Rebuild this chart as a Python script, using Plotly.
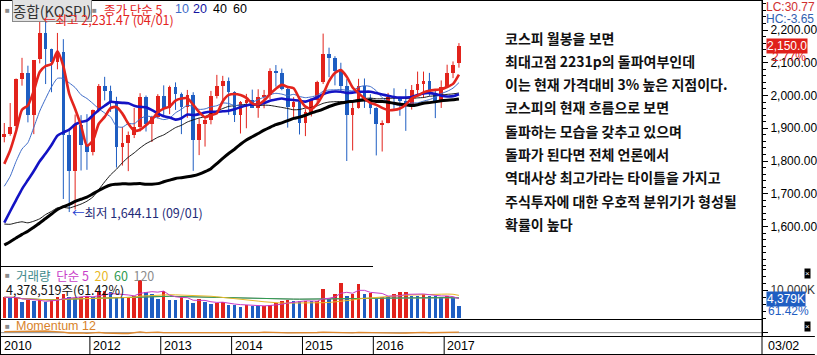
import numpy as np
import pandas as pd
import plotly.graph_objects as go

# ---------------- data ----------------
months = pd.date_range("2010-10-01", periods=78, freq="MS")

open_ = [1873, 1883, 1908, 2051, 2070, 1939, 2110, 2192, 2142, 2101, 2133, 1880, 1770, 1909, 1848,
         1826, 1956, 2030, 2014, 1982, 1843, 1854, 1880, 1905, 1996, 1912, 1933,
         1997, 1962, 2026, 2005, 1964, 2001, 1863, 1914, 1926, 1997, 2030, 2045,
         2011, 1941, 1980, 1986, 1962, 1995, 2002, 2076, 2069, 2020, 1964, 1981,
         1916, 1949, 1986, 2041, 2127, 2115, 2074, 2030, 1941, 1963, 2029, 1992,
         1961, 1912, 1917, 1996, 1994, 1983, 1970, 2016, 2035, 2044, 2008, 1983,
         2026, 2068, 2098]
high = [1916, 1977, 2052, 2115, 2091, 2107, 2231.47, 2229, 2143, 2191, 2172, 1896, 1942, 1940, 1943,
        1957, 2035, 2057, 2030, 1996, 1904, 1890, 1962, 2007, 2000, 1938, 2004,
        2031, 2030, 2040, 2009, 2017, 2010, 1930, 1932, 2014, 2063, 2060, 2055,
        2013, 1983, 2005, 2018, 2019, 2017, 2083, 2093, 2082, 2027, 1995, 1983,
        1958, 1990, 2045, 2189, 2146, 2120, 2100, 2050, 1982, 2051, 2052, 2004,
        1964, 1924, 2008, 2022, 1996, 2020, 2032, 2073, 2073, 2069, 2018, 2046,
        2094, 2104, 2160]
low = [1857, 1877, 1897, 2030, 1918, 1882, 2098, 2035, 2010, 2080, 1684, 1644.11, 1652, 1771, 1773,
       1817, 1949, 1985, 1950, 1780, 1786, 1769, 1870, 1890, 1890, 1858, 1930,
       1935, 1943, 1956, 1882, 1932, 1770, 1818, 1844, 1912, 1991, 1976, 1941,
       1919, 1884, 1900, 1963, 1932, 1961, 1989, 2027, 2016, 1902, 1927, 1881,
       1876, 1936, 1974, 2035, 2056, 2031, 2012, 1800, 1832, 1960, 1962, 1943,
       1817, 1829, 1915, 1959, 1938, 1892, 1957, 2004, 1993, 1999, 1931, 1962,
       2026, 2053, 2085]
close = [1883, 1905, 2051, 2070, 1939, 2107, 2192, 2142, 2101, 2133, 1880, 1770, 1909, 1848, 1826,
         1956, 2030, 2014, 1982, 1843, 1854, 1880, 1905, 1996, 1912, 1933, 1997,
         1962, 2026, 2005, 1964, 2001, 1863, 1914, 1926, 1997, 2030, 2045, 2011,
         1941, 1980, 1986, 1962, 1995, 2002, 2076, 2069, 2020, 1964, 1981, 1916,
         1949, 1986, 2041, 2127, 2115, 2074, 2030, 1941, 1963, 2029, 1992, 1961,
         1912, 1917, 1996, 1994, 1983, 1970, 2016, 2035, 2044, 2008, 1983, 2026,
         2068, 2092, 2150.0]
# monthly closes Nov-2005 .. Sep-2010 (only used for the moving averages)
prior_close = [1297, 1379, 1400, 1372, 1360, 1420, 1318, 1295, 1298, 1353, 1371, 1365, 1432, 1434,
               1360, 1417, 1453, 1542, 1701, 1744, 1933, 1873, 1946, 2065, 1906, 1897,
               1625, 1712, 1704, 1825, 1852, 1675, 1595, 1474, 1448, 1113, 1076, 1124,
               1162, 1063, 1206, 1369, 1396, 1390, 1557, 1592, 1673, 1581, 1556, 1683,
               1602, 1595, 1693, 1742, 1641, 1698, 1759, 1743, 1873]
# volume, thousand shares
volume = [7400000, 7200000, 7400000, 5600000, 6300000, 6000000, 6300000, 5600000, 6300000, 7400000,
          8600000, 7400000, 7200000, 7600000, 8000000, 7600000, 9200000, 9500000, 9200000, 7600000,
          7200000, 7600000, 8000000, 13600000, 9200000, 8600000, 6800000, 9800000, 6400000, 6300000,
          7400000, 6400000, 5200000, 6800000, 5600000, 5000000, 5200000, 5600000, 4600000, 4500000,
          4000000, 4600000, 4400000, 4300000, 4400000, 4600000, 5200000, 6100000, 6400000, 6100000,
          5900000, 6100000, 5900000, 6100000, 10300000, 6800000, 8600000, 12400000, 7800000, 8600000,
          12000000, 8600000, 8800000, 6800000, 7600000, 7400000, 8600000, 9200000, 9400000, 8000000,
          7900000, 8400000, 7900000, 7800000, 7400000, 7900000, 7129000, 4378519]

price_ma_periods = [5, 10, 20, 40, 60]
volume_ma_periods = [5, 20, 60, 120]
year_labels = ["2010", "2012", "2013", "2014", "2015", "2016", "2017"]
memo_lines = ["코스피 월봉을 보면",
              "최대고점 2231p의 돌파여부인데",
              "이는 현재 가격대비 3% 높은 지점이다.",
              "코스피의 현재 흐름으로 보면",
              "돌파하는 모습을 갖추고 있으며",
              "돌파가 된다면 전체 언론에서",
              "역대사상 최고가라는 타이틀을 가지고",
              "주식투자에 대한 우호적 분위기가 형성될",
              "확률이 높다"]
date_label = "03/02"

# ---------------- derived ----------------
n = len(close)
x = np.arange(n)
o = np.array(open_, float); h = np.array(high, float); l = np.array(low, float); c = np.array(close, float)
full_close = pd.Series(prior_close + close, dtype=float)
vol = pd.Series(volume, dtype=float)

UP, DOWN = "#E2231C", "#1F5EC2"
is_up = c >= o
cand_col = [UP if u else DOWN for u in is_up]
vol_up = np.r_[True, vol.values[1:] >= vol.values[:-1]]
vol_col = [UP if u else DOWN for u in vol_up]

PW, PH = 764.0, 336.0
def px(v): return v / PW
def py(v): return 1 - v / PH

FONT = "Liberation Sans, Noto Sans CJK KR, sans-serif"
KFONT = "Noto Sans CJK KR, sans-serif"

fig = go.Figure()

# wicks
for up, colr in [(True, UP), (False, DOWN)]:
    wx, wy = [], []
    for i in range(n):
        if bool(is_up[i]) == up:
            wx += [i, i, None]; wy += [l[i], h[i], None]
    fig.add_trace(go.Scatter(x=wx, y=wy, mode="lines", line=dict(color=colr, width=1),
                             hoverinfo="skip", showlegend=False, yaxis="y"))
# bodies
body = np.maximum(np.abs(c - o), 2.5)
fig.add_trace(go.Bar(x=x, y=body, base=np.minimum(o, c), width=0.62, marker_color=cand_col,
                     marker_line_width=0, showlegend=False, yaxis="y"))

# price moving averages
ma_style = {5: ("#E3241D", 2.6), 10: ("#3D6BC9", 1.0), 20: ("#1313C4", 2.6),
            40: ("#000000", 0.9), 60: ("#000000", 3.0)}
for p in [40, 10, 60, 20, 5]:
    ma = full_close.rolling(p).mean().values[-n:]
    colr, w = ma_style[p]
    fig.add_trace(go.Scatter(x=x, y=ma, mode="lines", line=dict(color=colr, width=w, shape="spline", smoothing=0.6),
                             hoverinfo="skip", showlegend=False, yaxis="y"))

# volume
fig.add_trace(go.Bar(x=x, y=vol, width=0.6, marker_color=vol_col, marker_line_width=0,
                     showlegend=False, yaxis="y2"))
vma_style = {5: "#C83CC8", 20: "#E8B828", 60: "#2E9A50", 120: "#8C8C8C"}
for p in [120, 60, 20, 5]:
    vm = vol.rolling(p, min_periods=1).mean()
    fig.add_trace(go.Scatter(x=x, y=vm, mode="lines", line=dict(color=vma_style[p], width=1),
                             hoverinfo="skip", showlegend=False, yaxis="y2"))

# momentum 12
mom = (full_close - full_close.shift(12)).values[-n:]
fig.add_trace(go.Scatter(x=[-1, 200], y=[0, 0], mode="lines", line=dict(color="#8C8C8C", width=1),
                         hoverinfo="skip", showlegend=False, yaxis="y3"))
fig.add_trace(go.Scatter(x=x, y=mom, mode="lines", line=dict(color="#E0892E", width=1.3),
                         hoverinfo="skip", showlegend=False, yaxis="y3"))

# ---------------- layout ----------------
ann = []
def A(text, xp, yp, color="#000", size=12, xanchor="left", family=FONT, weight=None, **kw):
    f = dict(color=color, size=size, family=family)
    if weight:
        f["weight"] = weight
    d = dict(text=text, x=px(xp), y=py(yp), xref="paper", yref="paper", showarrow=False,
             xanchor=xanchor, yanchor="middle", font=f)
    d.update(kw)
    ann.append(d)

# top legend
A("■", 3, 10, color="#8a8a8a", size=8)
A("종합(KOSPI)", 12, 10, color="#333", size=14.5, family=KFONT, bgcolor="#E2E2E2",
  bordercolor="#8a8a8a", borderwidth=1, borderpad=0)
A("■", 90, 10, color="#8a8a8a", size=8)
A("종가 단순 5", 102, 9, color="#E3241D", size=12.5, family=KFONT)
for lab, xp, colr in [("10", 173, "#3D6BC9"), ("20", 192, "#1313A0"), ("40", 212, "#000"), ("60", 232, "#000")]:
    A(lab, xp, 9, color=colr, size=12.5, family=FONT)

# high / low marks
ih = int(np.argmax(h)); il = int(np.argmin(l))
ann.append(dict(text=f"←최고 {h[ih]:,.2f} ({months[ih].month:02d}/01)", x=ih, y=h[ih], xref="x", yref="y",
                showarrow=False, xanchor="left", yanchor="middle", xshift=1, yshift=0,
                font=dict(color="#E3241D", size=12.5, family=KFONT)))
ann.append(dict(text=f"<span style='color:#1F3FD0'>←</span>최저 {l[il]:,.2f} ({months[il].month:02d}/01)",
                x=il, y=l[il], xref="x", yref="y",
                showarrow=False, xanchor="left", yanchor="middle", xshift=1,
                font=dict(color="#1E2A78", size=12.5, family=KFONT)))

# memo text
for i, line in enumerate(memo_lines):
    A(line, 504, 37.5 + 23.3 * i, color="#111", size=14, family=KFONT, weight="bold")

# right side labels
A("LC:30.77", 766, 7, color="#D03030", size=12)
A("HC:-3.65", 766, 19, color="#3060B0", size=12)
ann.append(dict(text=f"{c[-1]:,.1f}", x=px(768), y=c[-1], xref="paper", yref="y", showarrow=False,
                xanchor="left", yanchor="middle", bgcolor="#E0201A", borderpad=0,
                font=dict(color="white", size=12, family=FONT)))
A(f"{(c[-1] / c[-2] - 1) * 100:.2f}%", 772, 57, color="#E0201A", size=12)

# volume labels
A("■", 3, 275, color="#8a8a8a", size=8)
A("<span style='color:#3E8A8C'>거래량</span>  <span style='color:#C83CC8'>단순 5</span>  "
  "<span style='color:#E8B828'>20</span>  <span style='color:#2E9A50'>60</span>  <span style='color:#8C8C8C'>120</span>",
  14, 275, size=12.5, family=KFONT)
A(f"{volume[-1]:,}주({volume[-1] / volume[-2] * 100:.2f}%)", 4, 289, color="#111", size=12.5, family=KFONT)
ann.append(dict(text=f"{volume[-1] / 1000:,.0f}K", x=px(768), y=volume[-1], xref="paper", yref="y2",
                showarrow=False, xanchor="left", yanchor="middle", yshift=7, bgcolor="#1F5EC2", borderpad=0,
                font=dict(color="white", size=12, family=FONT)))
A(f"{volume[-1] / volume[-2] * 100:.2f}%", 768, 311, color="#1F5EC2", size=12)

# momentum label
A("■", 3, 326, color="#8a8a8a", size=8)
A("Momentum 12", 14, 326, color="#D8822A", size=12.5)

# close boxes
for yy in (273, 326):
    A("×", 806, yy, color="white", size=8, bgcolor="#000", borderpad=0)

# year labels along the bottom strip
label_pos = []
for yl in year_labels:
    yr = int(yl)
    if yr == months[0].year:
        label_pos.append(-0.5)
    else:
        label_pos.append(int(np.where((months.year == yr) & (months.month == 1))[0][0]) - 0.5)
for yl, p in zip(year_labels, label_pos):
    ann.append(dict(text=yl, x=p, y=py(346), xref="x", yref="paper", showarrow=False,
                    xanchor="left", yanchor="middle", xshift=1, font=dict(color="#000", size=12.5, family=FONT)))
A(date_label, 768, 346, color="#000", size=12.5)

shapes = []
def L(x0, y0, x1, y1, xref="paper", color="#000", w=1):
    shapes.append(dict(type="line", xref=xref, yref="paper",
                       x0=x0 if xref != "paper" else px(x0), x1=x1 if xref != "paper" else px(x1),
                       y0=py(y0), y1=py(y1), line=dict(color=color, width=w)))
L(0, 0.5, 764, 0.5)
L(0.5, 0, 0.5, 355)
L(0, 266.5, 374, 266.5)
L(0, 319.5, 764, 319.5)
L(0, 336.5, 817, 336.5)
L(0, 354.5, 817, 354.5)
L(764, 0, 764, 355)
for p in label_pos[1:]:
    shapes.append(dict(type="line", xref="x", yref="paper", x0=p, x1=p, y0=py(336.5), y1=py(355),
                       line=dict(color="#000", width=1)))

xr = [(0 - 4.3) / 5.92, (PW - 4.3) / 5.92]
y_top = 2000 + 95.5 / 0.3275
y_bot = 2000 - (266 - 95.5) / 0.3275

fig.update_layout(
    width=817, height=355, margin=dict(l=0, r=53, t=0, b=19),
    paper_bgcolor="white", plot_bgcolor="white", barmode="overlay", bargap=0,
    showlegend=False, annotations=ann, shapes=shapes,
    xaxis=dict(range=xr, visible=False, fixedrange=True),
    yaxis=dict(domain=[py(266), 1], range=[y_bot, y_top], side="right", anchor="x",
               tickvals=list(range(1600, 2201, 100)), tickformat=",.2f",
               ticks="outside", ticklen=5, tickcolor="#000", showgrid=False, zeroline=False,
               showline=True, linecolor="#000", linewidth=1,
               minor=dict(dtick=20, tick0=0, ticks="outside", ticklen=3, tickcolor="#000"),
               tickfont=dict(size=12, family=FONT, color="#000")),
    yaxis2=dict(domain=[py(319), py(266)], range=[-357000, 18571000], side="right", anchor="x",
                tickvals=[10000000], ticktext=["10,000K"], ticks="outside", ticklen=5, tickcolor="#000",
                showgrid=False, zeroline=False, showline=True, linecolor="#000",
                minor=dict(dtick=2500000, tick0=0, ticks="outside", ticklen=3, tickcolor="#000"),
                tickfont=dict(size=12, family=FONT, color="#333")),
    yaxis3=dict(domain=[0, py(319)], range=[-1000, 4100], side="right", anchor="x",
                tickvals=[0], showticklabels=False, ticks="outside", ticklen=5, tickcolor="#000",
                showgrid=False, zeroline=False, showline=True, linecolor="#000"),
)

fig.write_html("out.html")
